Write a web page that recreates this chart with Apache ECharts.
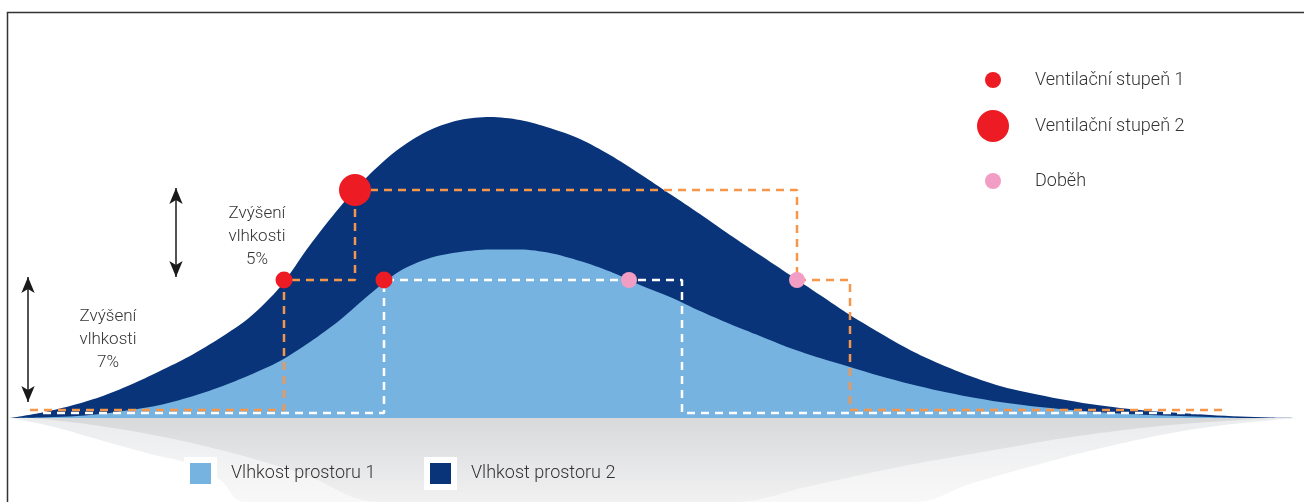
<!DOCTYPE html>
<html>
<head>
<meta charset="utf-8">
<script src="https://cdn.jsdelivr.net/npm/echarts@6/dist/echarts.min.js"></script>
<style>
  html, body { margin: 0; padding: 0; background: #fff; }
  #chart { width: 1304px; height: 502px; }
</style>
</head>
<body>
<div id="chart"></div>
<script>
// Humidity over time in two rooms (time along x, humidity level above the base level along y)
const roomTwoHumidity = [[0,0],[30,5],[60,12],[90,21],[120,33],[150,47],[180,62],[210,80],[240,101],[270,131],[300,173],[330,211],[360,244],[390,270],[420,288],[450,298],[480,301],[510,298],[540,290],[570,279],[600,263],[630,244],[660,224],[690,204],[720,183],[750,163],[780,143],[810,123],[840,103],[870,85],[900,68],[930,54],[960,42],[990,32],[1020,25],[1050,19],[1080,14],[1110,10],[1140,7],[1170,5],[1200,3],[1230,1.5],[1260,0.5],[1290,0]];
const roomOneHumidity = [[0,0],[30,0.5],[60,1.5],[90,4],[120,8],[150,13],[180,21],[210,31],[240,43],[270,57],[300,76],[330,98],[360,124],[390,147],[420,160],[450,166],[480,168.5],[510,168.5],[540,165],[570,157],[600,146.5],[630,133],[660,121],[690,107],[720,94],[750,82],[780,70],[810,60],[840,51],[870,42],[900,34],[930,27],[960,21],[990,16],[1020,12],[1050,9],[1080,6.5],[1110,4.5],[1140,3],[1170,2],[1200,1],[1230,0]];

// Fan switching profiles (step lines)
const fanProfileRoomTwo = [[20,8],[274,8],[274,138],[345,138],[345,228],[787,228],[787,138],[840,138],[840,8],[1215,8]];
const fanProfileRoomOne = [[33,5],[374,5],[374,138],[672,138],[672,5],[1195,5]];

// Switching points
const stageOnePoints = [[274,138],[374,138]];
const stageTwoPoints = [[345,228]];
const runOnPoints = [[619,138],[787,138]];

// Mirror shading below the base level
const shadowOuter = [[0,0],[40,-8],[90,-22],[140,-36],[177,-45],[210,-62],[235,-84],[905,-84],[960,-66],[1030,-46],[1096,-29],[1179,-12],[1262,-2],[1290,0]];
const shadowInner = [[20,0],[90,-8],[190,-27],[290,-55],[370,-84],[723,-84],[800,-68],[889,-49],[990,-31],[1055,-20],[1150,-8],[1229,-2],[1260,0]];

// Rise markers and their captions
const riseArrows = [[[166,230],[166,141]], [[18,141],[18,16]]];
const riseCaptions = [
  { at: [247,181], text: 'Zvýšení\nvlhkosti\n5%' },
  { at: [98,78], text: 'Zvýšení\nvlhkosti\n7%' }
];

const roomNames = ['Vlhkost prostoru 1', 'Vlhkost prostoru 2'];
const pointNames = ['Ventilační stupeň 1', 'Ventilační stupeň 2', 'Doběh'];

const DARK = '#0a3479';
const LIGHT = '#77b3e1';
const ORANGE = '#f6964a';
const RED = '#ed1c24';
const PINK = '#f29dc4';
const FONT = 'Roboto, "Liberation Sans", sans-serif';

const chart = echarts.init(document.getElementById('chart'), null, { renderer: 'canvas' });

const legendText = { color: '#333', fontSize: 18, fontFamily: FONT, fontWeight: 300 };

chart.setOption({
  animation: false,
  grid: { left: 10, right: 4, top: 18, bottom: 0 },
  xAxis: { type: 'value', min: 0, max: 1290, show: false },
  yAxis: { type: 'value', min: -84, max: 400, show: false },
  legend: [
    { data: [pointNames[0]], left: 980, top: 66, itemWidth: 16, itemHeight: 16, selectedMode: false,
      textStyle: Object.assign({ padding: [0,0,0,29] }, legendText) },
    { data: [pointNames[1]], left: 972, top: 105, itemWidth: 32, itemHeight: 32, selectedMode: false,
      textStyle: Object.assign({ padding: [0,0,0,21] }, legendText) },
    { data: [pointNames[2]], left: 980, top: 167, itemWidth: 16, itemHeight: 16, selectedMode: false,
      textStyle: Object.assign({ padding: [0,0,0,29] }, legendText) },
    { data: [{ name: roomNames[0], icon: 'rect' }], left: 179, top: 452, itemWidth: 27, itemHeight: 27, selectedMode: false,
      itemStyle: { borderColor: '#fff', borderWidth: 6 },
      textStyle: Object.assign({ padding: [0,0,0,12] }, legendText) },
    { data: [{ name: roomNames[1], icon: 'rect' }], left: 419, top: 452, itemWidth: 27, itemHeight: 27, selectedMode: false,
      itemStyle: { borderColor: '#fff', borderWidth: 6 },
      textStyle: Object.assign({ padding: [0,0,0,12] }, legendText) }
  ],
  graphic: [
    { type: 'polyline', silent: true, z: 100,
      shape: { points: [[7.5,502],[7.5,12.5],[1304,12.5]] },
      style: { stroke: '#333', lineWidth: 1.5, fill: null } }
  ],
  series: [
    { type: 'line', name: 'shadowOuter', data: shadowOuter, smooth: 0.4, showSymbol: false, silent: true, z: 1,
      lineStyle: { width: 0 },
      areaStyle: { opacity: 1, color: new echarts.graphic.LinearGradient(0,0,0,1,[
        { offset: 0, color: '#ebecee' }, { offset: 1, color: '#f8f8f8' }]) } },
    { type: 'line', name: 'shadowInner', data: shadowInner, smooth: 0.4, showSymbol: false, silent: true, z: 2,
      lineStyle: { width: 0 },
      areaStyle: { opacity: 1, color: new echarts.graphic.LinearGradient(0,0,0,1,[
        { offset: 0, color: '#d8d9db' }, { offset: 1, color: '#f1f1f2' }]) } },
    { type: 'line', name: roomNames[1], data: roomTwoHumidity, smooth: 0.3, showSymbol: false, z: 3,
      itemStyle: { color: DARK }, lineStyle: { width: 0, color: DARK },
      areaStyle: { opacity: 1, color: DARK } },
    { type: 'line', name: roomNames[0], data: roomOneHumidity, smooth: 0.3, showSymbol: false, z: 4,
      itemStyle: { color: LIGHT }, lineStyle: { width: 0, color: LIGHT },
      areaStyle: { opacity: 1, color: LIGHT } },
    { type: 'line', name: 'fanRoomOne', data: fanProfileRoomOne, showSymbol: false, z: 5, silent: true,
      lineStyle: { color: '#fff', width: 2.5, type: [8,6] } },
    { type: 'line', name: 'fanRoomTwo', data: fanProfileRoomTwo, showSymbol: false, z: 6, silent: true,
      lineStyle: { color: ORANGE, width: 2.5, type: [8,6] },
      markLine: {
        silent: true, symbol: ['arrow','arrow'], symbolSize: [10,16], label: { show: false },
        lineStyle: { color: '#1a1a1a', width: 1.5, type: 'solid' },
        data: riseArrows.map(a => [{ coord: a[0] }, { coord: a[1] }])
      },
      markPoint: {
        silent: true, symbol: 'circle', symbolSize: 1, itemStyle: { color: 'rgba(0,0,0,0)' },
        label: { show: true, position: 'inside', color: '#333', fontSize: 17, lineHeight: 23,
                 fontFamily: FONT, fontWeight: 300, align: 'center' },
        data: riseCaptions.map(c => ({ coord: c.at, value: 0, label: { formatter: c.text } }))
      } },
    { type: 'scatter', name: pointNames[0], data: stageOnePoints, symbolSize: 17, z: 7,
      itemStyle: { color: RED, opacity: 1 } },
    { type: 'scatter', name: pointNames[1], data: stageTwoPoints, symbolSize: 32, z: 7,
      itemStyle: { color: RED, opacity: 1 } },
    { type: 'scatter', name: pointNames[2], data: runOnPoints, symbolSize: 16, z: 7,
      itemStyle: { color: PINK, opacity: 1 } }
  ]
});
</script>
</body>
</html>
